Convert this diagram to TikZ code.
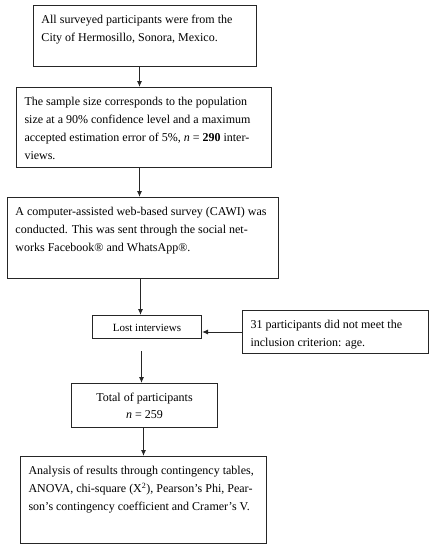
\documentclass[tikz,border=0pt]{standalone}
\usepackage{fontspec}
\setmainfont{Liberation Serif}
\usepackage{tikz}
\usetikzlibrary{arrows.meta}

\begin{document}
\begin{tikzpicture}[x=1pt,y=1pt]
		\tikzstyle{every node}+=[inner sep=0pt]
		\tikzstyle{flowbox}=[draw=black!85, line width=1pt, anchor=north west, inner xsep=8pt, inner ysep=10pt, font=\fontsize{12}{18}\selectfont]
		\tikzstyle{flowarrow}=[draw=black!85, line width=1pt, -{Latex[length=6pt,width=5pt]}]
		\useasboundingbox (0,0) rectangle (429,-550);
		\node [flowbox] (survey) at (33,-5) {\parbox[t][41pt][t]{207pt}{All surveyed participants were from the\\ City of Hermosillo, Sonora, Mexico.}};
		\node [flowbox] (sample) at (16,-87) {\parbox[t][60pt][t]{239pt}{The sample size corresponds to the population\\ size at a 90\% confidence level and a maximum\\ accepted estimation error of 5\%, \textit{n} = \textbf{290} inter-\\ views.}};
		\node [flowbox] (cawi) at (7,-197) {\parbox[t][61pt][t]{255pt}{A computer-assisted web-based survey (CAWI) was\\ conducted. This was sent through the social net-\\ works Facebook® and WhatsApp®.}};
		\node [flowbox, inner sep=0pt, minimum width=109pt, minimum height=23pt, text height=9pt, text depth=0pt, font=\fontsize{11}{13}\selectfont] (lost) at (92,-315) {Lost interviews};
		\node [flowbox] (criterion) at (242,-310) {\parbox[t][23pt][t]{170pt}{31 participants did not meet the\\ inclusion criterion: age.}};
		\node [flowbox, inner sep=0pt, minimum width=146pt, minimum height=44pt, align=center, font=\fontsize{12}{17}\selectfont] (total) at (71,-383) {Total of participants\\ \textit{n} = 259};
		\node [flowbox] (analysis) at (20,-456) {\parbox[t][67pt][t]{230pt}{Analysis of results through contingency tables,\\ ANOVA, chi-square (X\textsuperscript{2}), Pearson's Phi, Pear-\\ son's contingency coefficient and Cramer's V.}};
		\draw [flowarrow] ([xshift=-5.5pt]survey.south) -- ([xshift=-5.5pt]survey.south |- sample.north);
		\draw [flowarrow] ([xshift=-4.5pt]sample.south) -- ([xshift=-4.5pt]sample.south |- cawi.north);
		\draw [flowarrow] ([xshift=-2.5pt]cawi.south) -- ([xshift=-2.5pt]cawi.south |- lost.north);
		\draw [flowarrow] ([xshift=-5.5pt,yshift=-12pt]lost.south) -- ([xshift=-5.5pt]lost.south |- total.north);
		\draw [flowarrow] (criterion.west) -- (criterion.west -| lost.east);
		\draw [flowarrow] ([xshift=-1pt]total.south) -- ([xshift=-1pt]total.south |- analysis.north);
\end{tikzpicture}
\end{document}
